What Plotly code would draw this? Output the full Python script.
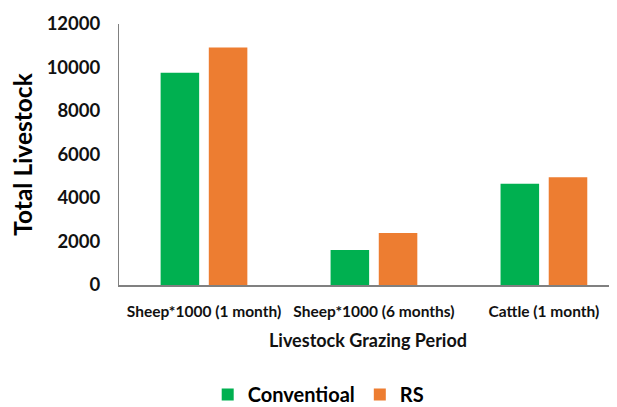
import plotly.graph_objects as go

categories = ["Sheep*1000 (1 month)", "Sheep*1000 (6 months)", "Cattle (1 month)"]
conventional = [9760, 1610, 4660]
rs = [10920, 2390, 4950]
y_ticks = [0, 2000, 4000, 6000, 8000, 10000, 12000]
y_tick_labels = ["0", "2000", "4000", "6000", "8000", "10000", "12000"]

FONT = "Lato, 'Open Sans', sans-serif"

fig = go.Figure()
fig.add_trace(go.Bar(x=categories, y=conventional, name="Conventioal",
                     marker=dict(color="#00B050", line=dict(width=0))))
fig.add_trace(go.Bar(x=categories, y=rs, name="RS",
                     marker=dict(color="#ED7D31", line=dict(width=0))))

# page body has an 8px default margin, so the figure is offset by 8px
fig.update_layout(
    width=609, height=399,
    margin=dict(l=111, r=0, t=16, b=122, autoexpand=False),
    paper_bgcolor="white", plot_bgcolor="white",
    barmode="group", bargap=0.433, bargroupgap=0.2,
    font=dict(family=FONT, color="#000000"),
    showlegend=True,
    legend=dict(orientation="h", x=0.40, xanchor="center", y=-0.42, yanchor="middle",
                xref="paper", font=dict(size=20, family=FONT, weight="bold"),
                itemwidth=30, traceorder="normal"),
    xaxis=dict(
        range=[-0.5, 2.43], showgrid=False, ticks="", showline=True,
        linecolor="#808080", linewidth=1.5, automargin=False,
        tickfont=dict(size=15.5, family=FONT, weight="bold", color="#111"),
        ticklabelstandoff=12,
        title=dict(text="Livestock Grazing Period", standoff=15,
                   font=dict(size=18, family=FONT, weight="bold", color="#111")),
    ),
    yaxis=dict(
        range=[0, 12000], tickvals=y_ticks, ticktext=y_tick_labels,
        showgrid=False, ticks="", automargin=False,
        showline=True, linecolor="#808080", linewidth=1, zeroline=False,
        tickfont=dict(size=18.5, family=FONT, weight="bold", color="#111"),
        ticklabelstandoff=14,
        title=dict(text="Total Livestock", standoff=11,
                   font=dict(size=24.5, family=FONT, weight="bold", color="#000")),
    ),
)

fig.write_html("out.html")
